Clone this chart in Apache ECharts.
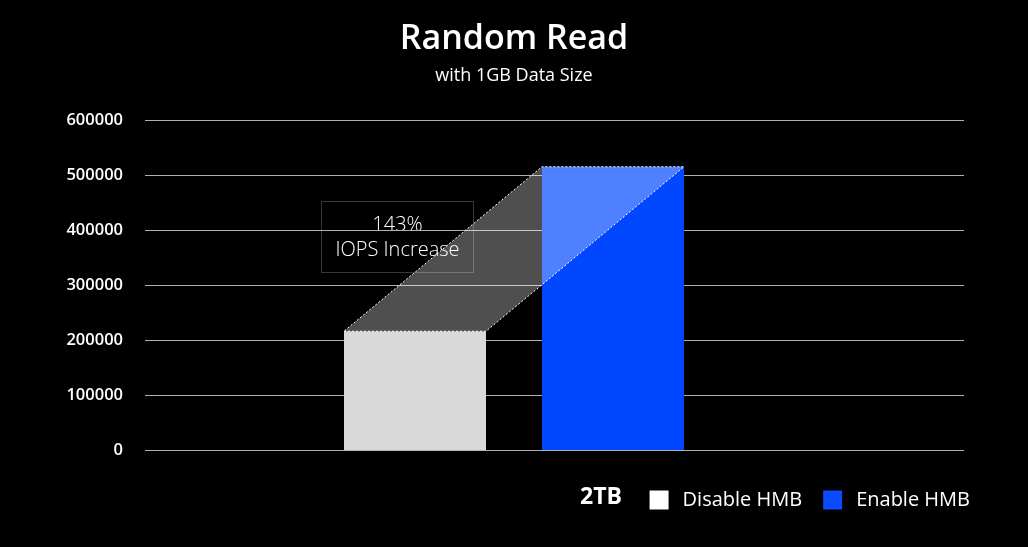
<!DOCTYPE html>
<html><head><meta charset="utf-8">
<script src="https://cdn.jsdelivr.net/npm/echarts@6/dist/echarts.min.js"></script>
<style>html,body{margin:0;padding:0;background:#000;}#c{width:1028px;height:547px;}</style>
</head><body><div id="c"></div>
<script>
const categories = ['Disable HMB', 'Enable HMB'];
const disableValues = [216000, '-'];
const enableValues = ['-', 515000];
const yTicks = [0, 100000, 200000, 300000, 400000, 500000, 600000];
const capacityLabel = '2TB';
const increaseLabel = ['143%', 'IOPS Increase'];

const FONT = '"Open Sans", "Noto Sans", sans-serif';
const BAR_W = 142;
const chart = echarts.init(document.getElementById('c'));

chart.setOption({
  backgroundColor: '#000',
  animation: false,
  title: {
    text: 'Random Read',
    subtext: 'with 1GB Data Size',
    left: 'center', top: 17,
    itemGap: 11,
    textStyle: { color: '#fff', fontSize: 34, fontWeight: 600, fontFamily: FONT },
    subtextStyle: { color: '#fff', fontSize: 18, fontFamily: FONT }
  },
  legend: {
    data: [
      { name: categories[0], itemStyle: { color: '#ffffff' } },
      { name: categories[1], itemStyle: { color: '#0a4bff' } }
    ],
    right: 53, top: 485,
    icon: 'rect', itemWidth: 19, itemHeight: 19, itemGap: 21,
    textStyle: { color: '#fff', fontSize: 20, fontFamily: FONT, padding: [0, 0, 0, 9] }
  },
  graphic: [
    { type: 'text', left: 580, top: 486,
      style: { text: capacityLabel, fill: '#fff', fontSize: 23, fontWeight: 'bold', fontFamily: FONT } },
    { type: 'group', left: 321, top: 201, z: 100, children: [
      { type: 'rect', shape: { x: 0, y: 0, width: 152, height: 71 },
        style: { fill: 'rgba(0,0,0,0.85)', stroke: 'rgba(255,255,255,0.22)', lineWidth: 1 } },
      { type: 'text', x: 76, y: 24,
        style: { text: increaseLabel[0], fill: '#fff', fontSize: 20, fontWeight: 300, fontFamily: FONT, align: 'center', verticalAlign: 'middle' } },
      { type: 'text', x: 76, y: 49,
        style: { text: increaseLabel[1], fill: '#fff', fontSize: 20, fontWeight: 300, fontFamily: FONT, align: 'center', verticalAlign: 'middle' } }
    ] }
  ],
  grid: [
    { left: 145, right: 64, top: 120, bottom: 97 },
    { left: 316, right: 316, top: 120, bottom: 97 }
  ],
  xAxis: [
    { type: 'category', gridIndex: 0, data: [capacityLabel], show: false },
    { type: 'category', gridIndex: 1, data: categories, show: false }
  ],
  yAxis: [
    { type: 'value', gridIndex: 0, min: yTicks[0], max: yTicks[yTicks.length - 1], interval: yTicks[1] - yTicks[0],
      axisLine: { show: false }, axisTick: { show: false },
      axisLabel: { color: '#fff', fontSize: 16.5, fontWeight: 600, fontFamily: FONT, margin: 22,
        formatter: function (v) { return String(v); } },
      splitLine: { lineStyle: { color: '#b0b0b0', width: 1.2 } } },
    { type: 'value', gridIndex: 1, min: yTicks[0], max: yTicks[yTicks.length - 1], interval: yTicks[1] - yTicks[0], show: false, splitLine: { show: false } }
  ],
  series: [
    { name: categories[0], type: 'bar', xAxisIndex: 1, yAxisIndex: 1, data: disableValues,
      barWidth: BAR_W, barGap: '-100%', itemStyle: { color: '#d9d9d9' }, z: 2 },
    { name: categories[1], type: 'bar', xAxisIndex: 1, yAxisIndex: 1, data: enableValues,
      barWidth: BAR_W, barGap: '-100%', itemStyle: { color: '#0047ff' }, z: 2 },
    { type: 'custom', xAxisIndex: 1, yAxisIndex: 1, z: 5, silent: true,
      data: [[0, disableValues[0], enableValues[1]]],
      renderItem: function (params, api) {
        const a = api.coord([0, api.value(1)]);
        const b = api.coord([1, api.value(2)]);
        const hw = BAR_W / 2;
        const pts = [[a[0] - hw, a[1]], [a[0] + hw, a[1]], [b[0] + hw, b[1]], [b[0] - hw, b[1]]];
        return {
          type: 'group',
          children: [
            { type: 'polygon', shape: { points: pts },
              style: { fill: 'rgba(255,255,255,0.31)', stroke: '#fff', lineWidth: 1, lineDash: [2, 2] } }
          ]
        };
      }
    }
  ]
});
</script></body></html>
